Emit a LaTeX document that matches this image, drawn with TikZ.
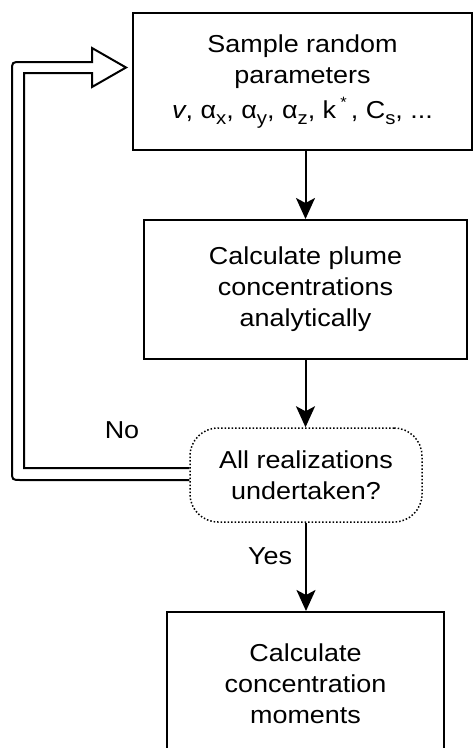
\documentclass[tikz,border=0pt]{standalone}
\usepackage{fontspec}
\setmainfont[FakeStretch=1.1]{Liberation Sans}
\usetikzlibrary{arrows.meta,calc}
\newcommand{\lsub}[1]{\raisebox{-6.5pt}{\fontsize{18.5}{18.5}\selectfont #1}}
\newcommand{\lsup}[1]{\raisebox{11pt}{\fontsize{15}{15}\selectfont #1}}
\begin{document}
\begin{tikzpicture}[x=1pt,y=-1pt,
  every node/.style={font=\fontsize{24.5}{31}\selectfont},
  procbox/.style={draw, line width=2pt, align=center, inner sep=0pt},
  decbox/.style={draw, dotted, line width=1.5pt, rounded corners=28pt, align=center, inner sep=0pt},
  flow/.style={line width=2pt, -{Stealth[length=21pt,width=19pt,inset=5pt]}},
  loopline/.style={line width=2pt}]
\fill[white] (0,0) rectangle (473,748);
\useasboundingbox (0,0) rectangle (473,748);
\clip (0,0) rectangle (473,748);
\node[procbox, minimum width=339pt, minimum height=137pt] (b1) at (302.5,81.5)
  {Sample random\\parameters\\[4pt]\textit{v}, α\lsub{x}, α\lsub{y}, α\lsub{z}, k\,\lsup{*}\,, C\lsub{s}, ...};
\node[procbox, minimum width=323pt, minimum height=139pt] (b2) at (305.5,289.5)
  {Calculate plume\\concentrations\\analytically};
\node[decbox, minimum width=232pt, minimum height=94pt] (d) at (306,475)
  {All realizations\\undertaken?};
\node[procbox, minimum width=277pt, minimum height=144pt] (b3) at (305.5,684)
  {Calculate\\concentration\\moments};
\node (no) at (122,430) {No};
\node (yes) at (270,556) {Yes};
\draw[flow] (b1.south -| b2.north) -- (b2.north);
\draw[flow] (b2.south) -- (b2.south |- d.north);
\draw[flow] (d.south) -- (d.south |- b3.north);
\coordinate (lin) at ($(d.west)+(0,-7)$);
\coordinate (lout) at ($(d.west)+(0,5)$);
\draw[loopline] (lin) -- (24,468) -- (24,73) -- (92,73) -- (92,87) -- (126,67.5)
  -- (92,48) -- (92,62) -- (21,62) .. controls (12,62) .. (12,71)
  -- (12,471) .. controls (12,480) .. (21,480) -- (lout);
\end{tikzpicture}
\end{document}
